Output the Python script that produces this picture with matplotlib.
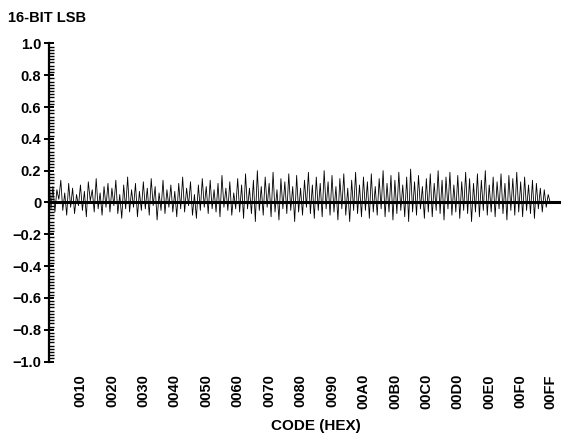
import matplotlib
matplotlib.use("Agg")
import matplotlib.pyplot as plt
from matplotlib.ticker import MultipleLocator, FixedLocator
import numpy as np

plt.rcParams['font.family'] = ['Liberation Sans', 'DejaVu Sans']

# DNL per code (16-bit LSB), codes 0x00..0xFF
dnl_rows = [
    [0.15, -0.04, 0.10, -0.06, 0.08, 0.02, 0.14, -0.05, 0.06, -0.08, 0.12, -0.03, 0.09, -0.07, 0.05, -0.02],
    [0.11, -0.05, 0.07, -0.09, 0.13, 0.01, 0.08, -0.06, 0.15, -0.04, 0.06, -0.08, 0.10, -0.03, 0.12, -0.06],
    [0.09, -0.02, 0.14, -0.07, 0.05, -0.10, 0.11, -0.04, 0.16, -0.06, 0.08, -0.03, 0.12, -0.09, 0.07, -0.05],
    [0.13, -0.04, 0.09, -0.08, 0.15, -0.02, 0.10, -0.11, 0.06, -0.05, 0.14, -0.07, 0.08, -0.03, 0.11, -0.06],
    [0.07, -0.09, 0.12, -0.04, 0.16, -0.06, 0.09, -0.02, 0.13, -0.08, 0.05, -0.10, 0.11, -0.05, 0.15, -0.03],
    [0.10, -0.07, 0.14, -0.04, 0.08, -0.06, 0.12, -0.09, 0.17, -0.03, 0.09, -0.05, 0.13, -0.08, 0.06, -0.04],
    [0.15, -0.06, 0.11, -0.10, 0.18, -0.04, 0.09, -0.07, 0.14, -0.12, 0.20, -0.05, 0.10, -0.08, 0.16, -0.03],
    [0.12, -0.09, 0.19, -0.06, 0.08, -0.11, 0.15, -0.04, 0.13, -0.07, 0.18, -0.05, 0.10, -0.12, 0.17, -0.06],
    [0.09, -0.08, 0.14, -0.03, 0.19, -0.07, 0.11, -0.10, 0.16, -0.05, 0.12, -0.09, 0.20, -0.04, 0.13, -0.08],
    [0.17, -0.06, 0.10, -0.11, 0.15, -0.04, 0.18, -0.08, 0.09, -0.12, 0.14, -0.05, 0.19, -0.07, 0.11, -0.09],
    [0.16, -0.05, 0.13, -0.10, 0.18, -0.06, 0.10, -0.08, 0.15, -0.04, 0.20, -0.09, 0.12, -0.06, 0.17, -0.11],
    [0.14, -0.07, 0.19, -0.05, 0.11, -0.09, 0.16, -0.12, 0.21, -0.06, 0.13, -0.08, 0.17, -0.04, 0.10, -0.10],
    [0.15, -0.06, 0.18, -0.09, 0.12, -0.05, 0.20, -0.07, 0.14, -0.11, 0.16, -0.04, 0.19, -0.08, 0.11, -0.06],
    [0.17, -0.10, 0.13, -0.05, 0.19, -0.07, 0.15, -0.12, 0.12, -0.06, 0.18, -0.09, 0.14, -0.05, 0.20, -0.08],
    [0.11, -0.06, 0.16, -0.09, 0.13, -0.04, 0.18, -0.07, 0.12, -0.11, 0.17, -0.05, 0.15, -0.08, 0.19, -0.06],
    [0.13, -0.09, 0.16, -0.05, 0.11, -0.07, 0.14, -0.10, 0.12, -0.04, 0.09, -0.06, 0.08, -0.03, 0.05, 0.00],
]
dnl = [v for row in dnl_rows for v in row]
codes = list(range(len(dnl)))

xtick_codes = [0x10, 0x20, 0x30, 0x40, 0x50, 0x60, 0x70, 0x80, 0x90, 0xA0, 0xB0, 0xC0, 0xD0, 0xE0, 0xF0, 0xFF]
xtick_labels = ["0010", "0020", "0030", "0040", "0050", "0060", "0070", "0080",
                "0090", "00A0", "00B0", "00C0", "00D0", "00E0", "00F0", "00FF"]
ytick_values = [1.0, 0.8, 0.6, 0.4, 0.2, 0.0, -0.2, -0.4, -0.6, -0.8, -1.0]

fig = plt.figure(figsize=(5.64, 4.34), dpi=100)
ax = fig.add_axes([0.0869, 0.167, 0.899, 0.733])

ax.plot(codes, dnl, color='black', lw=0.6)
ax.axhline(0, color='black', lw=2.2, xmax=1.005, clip_on=False)

ax.set_xlim(0, 258)
ax.set_ylim(-1.0, 1.0)

for s in ['top', 'right', 'bottom']:
    ax.spines[s].set_visible(False)
ax.spines['left'].set_linewidth(1.6)

ax.yaxis.set_major_locator(FixedLocator(ytick_values))
ax.yaxis.set_minor_locator(MultipleLocator(0.02))
def fmt(v):
    if abs(v) < 1e-9:
        return "0"
    s = f"{abs(v):.1f}"
    return ("\u2212" + s) if v < 0 else s
ax.set_yticklabels([fmt(v) for v in ytick_values], fontweight='bold', fontsize=10.5)
ax.tick_params(axis='y', which='major', direction='inout', length=7, width=1.4, pad=2)
ax.tick_params(axis='y', which='minor', direction='in', length=3.5, width=1.0)

ax.set_xticks(xtick_codes)
ax.set_xticklabels(xtick_labels, rotation=90, fontweight='bold', fontsize=10.5)
ax.tick_params(axis='x', which='both', length=0, pad=9)

ax.set_xlabel("CODE (HEX)", fontweight='bold', fontsize=11)
ax.xaxis.set_label_coords(0.527, -0.18)

fig.text(0.014, 0.958, "16-BIT LSB", fontweight='bold', fontsize=10.5, ha='left', va='center')

fig.savefig("out.png", dpi=100)
